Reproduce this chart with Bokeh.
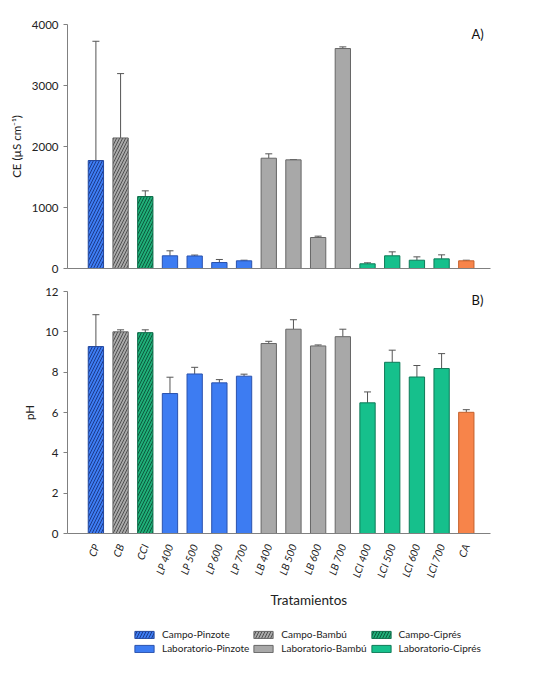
import math
from bokeh.plotting import figure
from bokeh.models import (ColumnDataSource, Range1d, FixedTicker, Whisker, TeeHead,
                          Label, Legend, LegendItem, Title)
from bokeh.layouts import column
from bokeh.embed import file_html
from bokeh.resources import INLINE

# ---------------- data ----------------
treatments = ["CP", "CB", "CCI", "LP 400", "LP 500", "LP 600", "LP 700",
              "LB 400", "LB 500", "LB 600", "LB 700",
              "LCI 400", "LCI 500", "LCI 600", "LCI 700", "CA"]
groups = (["Campo-Pinzote", "Campo-Bambú", "Campo-Ciprés"]
          + ["Laboratorio-Pinzote"] * 4 + ["Laboratorio-Bambú"] * 4
          + ["Laboratorio-Ciprés"] * 4 + ["Control"])
ce_mean = [1770, 2140, 1180, 208, 205, 98, 126, 1808, 1781, 508, 3606,
           77, 208, 136, 158, 126]
ce_err = [1955, 1055, 93, 82, 15, 50, 10, 72, 5, 22, 27, 16, 65, 55, 66, 10]
ph_mean = [9.27, 10.0, 9.96, 6.94, 7.91, 7.47, 7.80, 9.42, 10.13, 9.30, 9.76,
           6.48, 8.49, 7.76, 8.18, 6.01]
ph_err = [1.58, 0.10, 0.14, 0.81, 0.33, 0.16, 0.10, 0.11, 0.47, 0.05, 0.37,
          0.54, 0.60, 0.57, 0.74, 0.13]
ce_ticks = [0, 1000, 2000, 3000, 4000]
ph_ticks = [0, 2, 4, 6, 8, 10, 12]
legend_order = ["Campo-Pinzote", "Campo-Bambú", "Campo-Ciprés",
                "Laboratorio-Pinzote", "Laboratorio-Bambú", "Laboratorio-Ciprés"]

# ---------------- styles ----------------
FONT = "Lato"
styles = {
    "Campo-Pinzote": dict(fill_color="#3d7cf2", line_color="#24489e",
                          hatch_pattern="/", hatch_color="#1c3a8a"),
    "Campo-Bambú": dict(fill_color="#a9a9a9", line_color="#666666",
                        hatch_pattern="/", hatch_color="#4f4f4f"),
    "Campo-Ciprés": dict(fill_color="#1fae78", line_color="#0f6e4c",
                         hatch_pattern="/", hatch_color="#0b5a3c"),
    "Laboratorio-Pinzote": dict(fill_color="#3d7cf2", line_color="#2a52ad"),
    "Laboratorio-Bambú": dict(fill_color="#a8a8a8", line_color="#666666"),
    "Laboratorio-Ciprés": dict(fill_color="#16c08c", line_color="#0f7a58"),
    "Control": dict(fill_color="#f7844a", line_color="#c4602b"),
}

positions = [i + 1 for i in range(len(treatments))]
xr = Range1d(-0.15, 16.98)


def split_style(g):
    st = dict(styles[g])
    if "hatch_pattern" in st:
        st.update(hatch_scale=6, hatch_weight=1)
    return st


def style_axes(p):
    p.grid.visible = False
    p.outline_line_color = None
    p.background_fill_color = "white"
    p.border_fill_color = "white"
    for ax in p.yaxis:
        ax.axis_line_color = "#808080"
        ax.major_tick_line_color = "#808080"
        ax.major_tick_in = 0
        ax.major_tick_out = 4
        ax.minor_tick_line_color = None
        ax.major_label_text_font = FONT
        ax.major_label_text_font_size = "11.5px"
        ax.major_label_text_color = "#222222"
        ax.axis_label_text_font = FONT
        ax.axis_label_text_font_size = "11.5px"
        ax.axis_label_text_font_style = "normal"
        ax.axis_label_text_color = "#222222"
        ax.axis_label_standoff = 6
    for ax in p.xaxis:
        ax.axis_line_color = "#808080"
        ax.minor_tick_line_color = None


def draw_panel(p, means, errs):
    renderers = {}
    for g in styles:
        idx = [i for i, gg in enumerate(groups) if gg == g]
        src = ColumnDataSource(dict(x=[positions[i] for i in idx],
                                    top=[means[i] for i in idx]))
        r = p.vbar(x="x", top="top", bottom=0, width=0.62, line_width=1,
                   source=src, **split_style(g))
        renderers[g] = r
    esrc = ColumnDataSource(dict(x=positions, lo=means,
                                 up=[m + e for m, e in zip(means, errs)]))
    w = Whisker(base="x", lower="lo", upper="up", source=esrc,
                line_color="#555555", line_width=1,
                lower_head=None,
                upper_head=TeeHead(size=7, line_color="#555555", line_width=1))
    p.add_layout(w)
    return renderers


# ---------------- panel A ----------------
p1 = figure(width=534, height=280, x_range=xr, y_range=Range1d(0, 4000),
            output_backend="svg", toolbar_location=None,
            min_border_left=67, min_border_right=44,
            min_border_top=24, min_border_bottom=12)
style_axes(p1)
p1.yaxis.ticker = FixedTicker(ticks=ce_ticks)
p1.yaxis.axis_label = "CE (µS cm⁻¹)"
p1.xaxis.ticker = FixedTicker(ticks=[])
p1.xaxis.major_tick_line_color = None
p1.xaxis.major_label_text_font_size = "0px"
draw_panel(p1, ce_mean, ce_err)
p1.add_layout(Label(x=404, y=235, x_units="screen", y_units="screen",
                    text="A)", text_font=FONT, text_font_size="13px",
                    text_align="left", text_baseline="middle",
                    text_color="#111111"))

# ---------------- panel B ----------------
p2 = figure(width=534, height=333, x_range=xr, y_range=Range1d(0, 12),
            output_backend="svg", toolbar_location=None,
            min_border_left=67, min_border_right=44,
            min_border_top=11, min_border_bottom=80)
style_axes(p2)
p2.yaxis.ticker = FixedTicker(ticks=ph_ticks)
p2.yaxis.axis_label = "pH"
p2.xaxis.ticker = FixedTicker(ticks=positions)
p2.xaxis.major_label_overrides = {x: t for x, t in zip(positions, treatments)}
p2.xaxis.major_label_orientation = math.radians(70)
p2.xaxis.major_label_text_font = FONT
p2.xaxis.major_label_text_font_size = "10.5px"
p2.xaxis.major_label_text_font_style = "italic"
p2.xaxis.major_label_text_color = "#222222"
p2.xaxis.major_tick_line_color = None
p2.xaxis.major_label_standoff = 5
draw_panel(p2, ph_mean, ph_err)
p2.add_layout(Label(x=404, y=234, x_units="screen", y_units="screen",
                    text="B)", text_font=FONT, text_font_size="13px",
                    text_align="left", text_baseline="middle",
                    text_color="#111111"))

xtitle = Title(text="Tratamientos", align="left", offset=203,
               text_font=FONT, text_font_size="13.5px",
               text_font_style="normal", text_color="#222222", standoff=10)
p2.add_layout(xtitle, "below")

# ---------------- legend strip ----------------
p3 = figure(width=534, height=76, output_backend="svg", toolbar_location=None,
            x_range=Range1d(0, 1), y_range=Range1d(0, 1),
            x_axis_location=None, y_axis_location=None,
            min_border_left=0, min_border_right=0,
            min_border_top=0, min_border_bottom=0)
p3.grid.visible = False
p3.outline_line_color = None
items = []
for g in legend_order:
    # zero-size proxy glyph: carries only the style for the legend swatch
    r = p3.vbar(x=[-1], top=[0], bottom=0, width=0, line_width=1, **split_style(g))
    items.append(LegendItem(label=g, renderers=[r]))
legend = Legend(items=items, location=(65, 35), orientation="horizontal", ncols=3,
                glyph_width=24, glyph_height=9, label_height=10,
                label_standoff=6, spacing=2, padding=0, margin=0,
                border_line_color=None, background_fill_alpha=0,
                label_text_font=FONT, label_text_font_size="10px",
                label_text_color="#222222")
p3.add_layout(legend)

layout = column(p1, p2, p3, spacing=0)
open("out.html", "w").write(file_html(layout, INLINE))
